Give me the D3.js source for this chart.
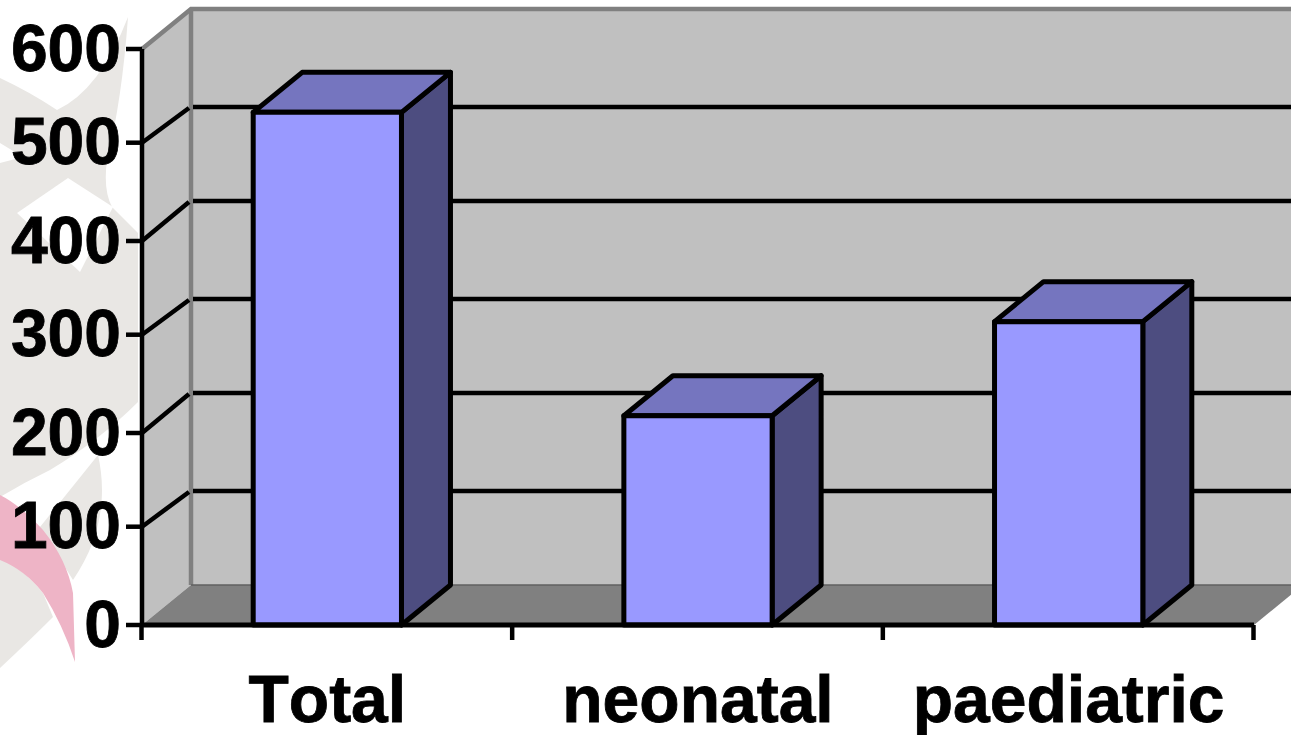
<!DOCTYPE html>
<html>
<head>
<meta charset="utf-8">
<script src="https://cdn.jsdelivr.net/npm/d3@7"></script>
<style>
html, body { margin: 0; padding: 0; background: #fff; overflow: hidden; }
text { font-family: "Liberation Sans", Arial, sans-serif; font-weight: bold; fill: #000; font-kerning: none; stroke: #000; stroke-width: 0.8px; }
</style>
</head>
<body>
<svg id="chart" width="1291" height="735"></svg>
<script>
const categories = ["Total", "neonatal", "paediatric"];
const values = [534, 218, 316];
const yTicks = [0, 100, 200, 300, 400, 500, 600];

const svg = d3.select("#chart");
const depthX = 49, depthY = -40;

const x = d3.scaleBand().domain(categories).range([142, 1254]).paddingInner(0.6).paddingOuter(0.3);
const y = d3.scaleLinear().domain([0, 600]).range([625, 49]);
const x0 = x.range()[0], x1 = x.range()[1];
const line = d3.line();

// the original was upscaled, odd hundreds landed a couple of px off
const frontY = t => y(t) - (t % 200 ? 2.3 : 0);
const backY = t => y(t) + depthY + (t % 200 ? 2 : 0);

// faded logo behind the chart
const logoGrey = "#e9e7e4";
const logo = svg.append("g");
logo.append("path")
  .attr("d", "M0,78 Q30,92 57,110 Q100,90 128,17 Q122,100 107,160 Q103,190 112,207 L138,233 L138,402 Q100,440 50,470 Q25,482 0,497 Z")
  .attr("fill", logoGrey);
logo.append("path").attr("d", "M0,143 L23,157 L0,163 Z").attr("fill", "#fff");
logo.append("path").attr("d", "M68,178 L17,213 L80,272 L113,207 Z").attr("fill", "#fff");
logo.append("path")
  .attr("d", "M98,455 C106,490 104,535 73,580 L40,527 Q70,490 98,455 Z")
  .attr("fill", logoGrey);
logo.append("path")
  .attr("d", "M0,558 Q25,570 43,593 Q48,605 53,617 Q30,640 0,668 Z")
  .attr("fill", logoGrey);
logo.append("path")
  .attr("d", "M0,495 Q20,505 43,530 Q67,560 73,593 L75,662 Q63,625 43,593 Q25,570 0,560 Z")
  .attr("fill", "#eeb4c6");

// walls and floor
const wall = "#c0c0c0", edge = "#808080";
svg.append("path")
  .attr("d", line([[x0 + depthX, y(600) + depthY], [x1 + depthX, y(600) + depthY], [x1 + depthX, y(0) + depthY], [x0 + depthX, y(0) + depthY]]) + "Z")
  .attr("fill", wall);
svg.append("path")
  .attr("d", line([[x0, y(600)], [x0 + depthX, y(600) + depthY], [x0 + depthX, y(0) + depthY], [x0, y(0)]]) + "Z")
  .attr("fill", wall);
svg.append("path")
  .attr("d", line([[x0, y(0)], [x0 + depthX, y(0) + depthY], [x1 + depthX, y(0) + depthY], [x1, y(0)]]) + "Z")
  .attr("fill", edge);
svg.append("path")
  .attr("d", line([[x0, y(600)], [x0 + depthX, y(600) + depthY], [x1 + depthX, y(600) + depthY]]))
  .attr("fill", "none").attr("stroke", edge).attr("stroke-width", 4.5);
svg.append("line")
  .attr("x1", x0 + depthX).attr("x2", x0 + depthX)
  .attr("y1", y(600) + depthY).attr("y2", y(0) + depthY)
  .attr("stroke", edge).attr("stroke-width", 4.5);
svg.append("line")
  .attr("x1", x0 + depthX).attr("x2", x1 + depthX)
  .attr("y1", y(0) + depthY).attr("y2", y(0) + depthY)
  .attr("stroke", "#606060").attr("stroke-width", 1.5);

// gridlines
yTicks.filter(t => t > 0 && t < 600).forEach(t => {
  svg.append("path")
    .attr("d", line([[x0, frontY(t)], [x0 + depthX - 2, backY(t) + 1]]))
    .attr("stroke", "#000").attr("stroke-width", 4.5).attr("fill", "none");
  svg.append("line")
    .attr("x1", x0 + depthX + 2).attr("x2", x1 + depthX)
    .attr("y1", backY(t)).attr("y2", backY(t))
    .attr("stroke", "#000").attr("stroke-width", 4.5);
});

// bars
const bars = svg.selectAll("g.bar").data(categories).enter().append("g").attr("class", "bar");
bars.each(function(c, i) {
  const g = d3.select(this);
  const l = x(c), r = l + x.bandwidth(), t = y(values[i]), b = y(0);
  const style = s => s.attr("stroke", "#000").attr("stroke-width", 5).attr("stroke-linejoin", "round");
  style(g.append("path")
    .attr("d", line([[r, t], [r + depthX, t + depthY], [r + depthX, b + depthY], [r, b]]) + "Z")
    .attr("fill", "#4d4d80"));
  style(g.append("path")
    .attr("d", line([[l, t], [l + depthX, t + depthY], [r + depthX, t + depthY], [r, t]]) + "Z")
    .attr("fill", "#7575bf"));
  style(g.append("path")
    .attr("d", line([[l, t], [r, t], [r, b], [l, b]]) + "Z")
    .attr("fill", "#9999ff"));
});

// axes
const gy = svg.append("g").attr("transform", `translate(${x0},0)`);
gy.append("line").attr("y1", y(600)).attr("y2", y(0)).attr("stroke", "#000").attr("stroke-width", 4.5);
const yt = gy.selectAll("g.tick").data(yTicks).enter().append("g").attr("class", "tick")
  .attr("transform", t => `translate(0,${frontY(t)})`);
yt.append("line").attr("x1", -16).attr("x2", 0).attr("stroke", "#000").attr("stroke-width", 4.5);
yt.append("text").attr("x", -21).attr("dy", "0.33em").attr("text-anchor", "end")
  .attr("font-size", 66).text(t => t);

svg.append("line").attr("x1", x0 - 2).attr("x2", x1).attr("y1", y(0)).attr("y2", y(0))
  .attr("stroke", "#000").attr("stroke-width", 5);
const tickStep = x.step();
d3.range(4).forEach(i => {
  svg.append("line").attr("x1", x0 + i * tickStep - 0.5).attr("x2", x0 + i * tickStep - 0.5)
    .attr("y1", y(0)).attr("y2", y(0) + 15)
    .attr("stroke", "#000").attr("stroke-width", 4.5);
});
svg.selectAll("text.cat").data(categories).enter().append("text")
  .attr("class", "cat")
  .attr("x", c => x(c) + x.bandwidth() / 2)
  .attr("y", 722)
  .attr("text-anchor", "middle")
  .attr("font-size", 66)
  .text(c => c);
</script>
</body>
</html>
